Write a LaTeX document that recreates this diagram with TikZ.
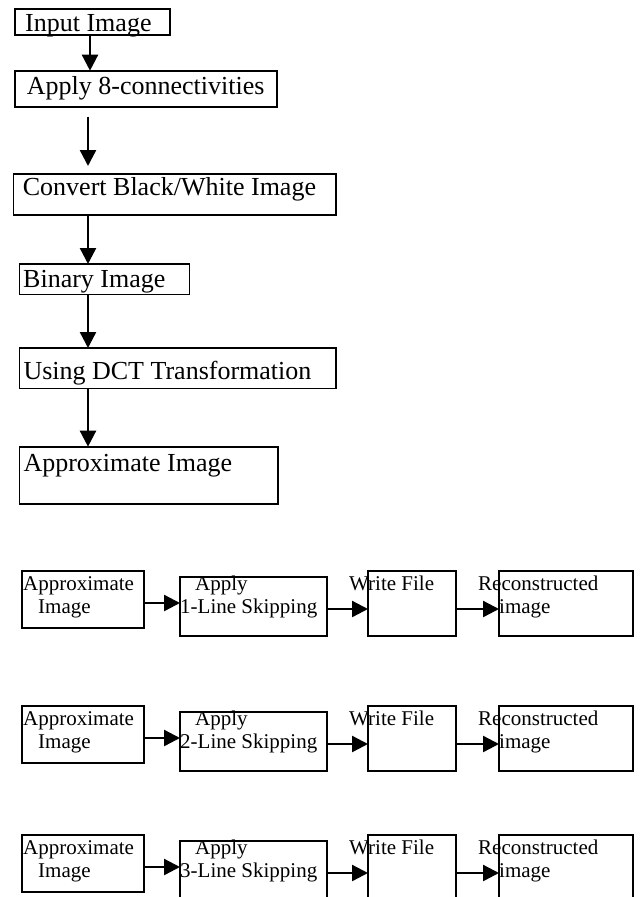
\documentclass[tikz,border=0pt]{standalone}
\usepackage{fontspec}
\setmainfont{Liberation Serif}
\usetikzlibrary{arrows.meta}
\tikzset{
  box/.style={draw, line width=1.6pt, inner sep=0pt, outer sep=0pt, anchor=north west},
  tbig/.style={inner sep=0pt, anchor=base west, font=\fontsize{26}{30}\selectfont},
  tsmall/.style={inner sep=0pt, anchor=base west, font=\fontsize{21}{25}\selectfont},
  arr/.style={line width=2.4pt, -{Triangle[length=16pt,width=16pt]}},
}
\begin{document}
\begin{tikzpicture}[x=1pt,y=-1pt]
\useasboundingbox (0,0) rectangle (640,897);
\clip (0,0) rectangle (640,897);
% top flow
\node[box, minimum width=155.3pt, minimum height=26pt] (in) at (14.7,9) {};
\node[box, minimum width=262.3pt, minimum height=36pt] (a8) at (14.7,70.7) {};
\node[box, minimum width=322.4pt, minimum height=40.7pt] (cv) at (13.3,174) {};
\node[box, minimum width=170pt, minimum height=30.3pt] (bi) at (19.3,264) {};
\node[box, minimum width=316.4pt, minimum height=40.5pt] (dct) at (19.3,348) {};
\node[box, minimum width=258.4pt, minimum height=57.3pt] (ap) at (19.3,446.7) {};
\node[tbig] (tin) at (25,31) {Input Image};
\node[tbig] (ta8) at (26.7,94.3) {Apply 8-connectivities};
\node[tbig] (tcv) at (22.7,195.5) {Convert Black/White Image};
\node[tbig] (tbi) at (23,287.3) {Binary Image};
\node[tbig] (tdct) at (23.3,379.3) {Using DCT Transformation};
\node[tbig] (tap) at (23.3,471.7) {Approximate Image};
\coordinate (x1) at (90,0);
\coordinate (x2) at (88,0);
\draw[arr] (in.south -| x1) -- (a8.north -| x1);
\draw[arr, shorten <=10pt, shorten >=8pt] (a8.south -| x2) -- (cv.north -| x2);
\draw[arr] (cv.south -| x2) -- (bi.north -| x2);
\draw[arr] (bi.south -| x2) -- (dct.north -| x2);
\draw[arr] (dct.south -| x2) -- (ap.north -| x2);
% bottom rows
\foreach \r/\d/\n in {1/0/1, 2/135/2, 3/264/3} {
  \node[box, minimum width=122pt, minimum height=57pt] (appr\r) at (22,571+\d) {};
  \node[box, minimum width=147pt, minimum height=59pt] (skip\r) at (180,577+\d) {};
  \node[box, minimum width=88pt, minimum height=65pt] (wf\r) at (368,571+\d) {};
  \node[box, minimum width=134pt, minimum height=65pt] (rec\r) at (499,571+\d) {};
  \node[tsmall] (tappr\r) at (23,590+\d) {Approximate};
  \node[tsmall] (timg\r) at (38,613+\d) {Image};
  \node[tsmall] (tapply\r) at (195,590+\d) {Apply};
  \node[tsmall] (tskip\r) at (180,613+\d) {\n-Line Skipping};
  \node[tsmall] (twf\r) at (349,590+\d) {Write File};
  \node[tsmall] (trec\r) at (478,590+\d) {Reconstructed};
  \node[tsmall] (trimg\r) at (499,613+\d) {image};
  \coordinate (ya\r) at (0,603+\d);
  \coordinate (yb\r) at (0,609+\d);
  \draw[arr] (appr\r.east |- ya\r) -- (skip\r.west |- ya\r);
  \draw[arr] (skip\r.east |- yb\r) -- (wf\r.west |- yb\r);
  \draw[arr] (wf\r.east |- yb\r) -- (rec\r.west |- yb\r);
}
\end{tikzpicture}
\end{document}
